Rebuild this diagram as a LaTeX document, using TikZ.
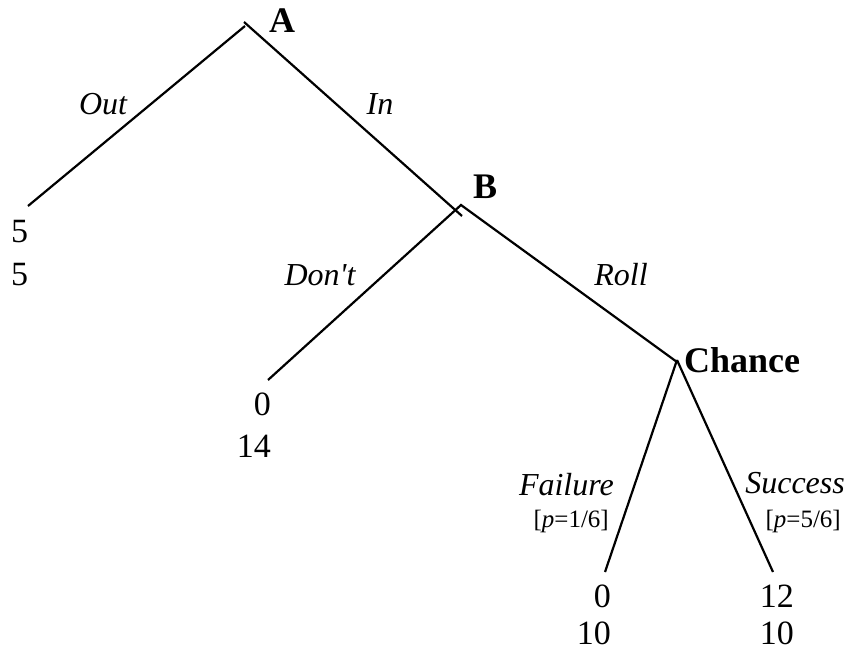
\documentclass[tikz,border=0pt]{standalone}
\usepackage{fontspec}
\setmainfont{Liberation Serif}[Ligatures=TeXOff]
\tikzset{
  x=1pt, y=-1pt,
  edge/.style={line width=2.2pt, line cap=butt},
  txt/.style={inner sep=0pt, font=\fontsize{34}{40}\selectfont},
  lbl/.style={inner sep=0pt, font=\fontsize{32}{38}\selectfont\itshape},
  prob/.style={inner sep=0pt, font=\fontsize{25}{30}\selectfont},
  player/.style={inner sep=0pt, font=\fontsize{36}{42}\selectfont\bfseries},
}
\begin{document}
\begin{tikzpicture}
\useasboundingbox (0,0) rectangle (851,650);
% tree vertices
\coordinate (a) at (244,22);
\coordinate (a2) at (245,26);
\coordinate (out) at (28,206);
\coordinate (bin) at (462,216);
\coordinate (b) at (461,205);
\coordinate (dont) at (268,380);
\coordinate (c) at (677,362);
\coordinate (c2) at (677,360);
\coordinate (fail) at (605,572);
\coordinate (succ) at (773,572);
% edges
\draw[edge] (a2) -- (out);
\draw[edge] (a) -- (bin);
\draw[edge] (dont) -- (b) -- (c);
\draw[edge] (c2) -- (fail);
\draw[edge] (c2) -- (succ);
% players
\node[player, anchor=base] (A) at (282,33) {A};
\node[player, anchor=base] (B) at (485,198) {B};
\node[player, anchor=base west] (C) at (684,372) {Chance};
% action labels
\node[lbl, anchor=base] (lout) at (103,115) {Out};
\node[lbl, anchor=base] (lin) at (380,115) {In};
\node[lbl, anchor=base] (ldont) at (320,285) {Don't};
\node[lbl, anchor=base] (lroll) at (621,285) {Roll};
\node[lbl, anchor=base east] (lfail) at (614,495) {Failure};
\node[prob, anchor=base east] (pfail) at (609,527) {[\textit{p}=1/6]};
\node[lbl, anchor=base east] (lsucc) at (845,493) {Success};
\node[prob, anchor=base east] (psucc) at (841,527) {[\textit{p}=5/6]};
% payoffs
\node[txt, anchor=base west] (p1a) at (11,242) {5};
\node[txt, anchor=base west] (p1b) at (11,285) {5};
\node[txt, anchor=base east] (p2a) at (271,415) {0};
\node[txt, anchor=base east] (p2b) at (271,457) {14};
\node[txt, anchor=base east] (p3a) at (611,607) {0};
\node[txt, anchor=base east] (p3b) at (611,644) {10};
\node[txt, anchor=base east] (p4a) at (794,607) {12};
\node[txt, anchor=base east] (p4b) at (794,644) {10};
\end{tikzpicture}
\end{document}
